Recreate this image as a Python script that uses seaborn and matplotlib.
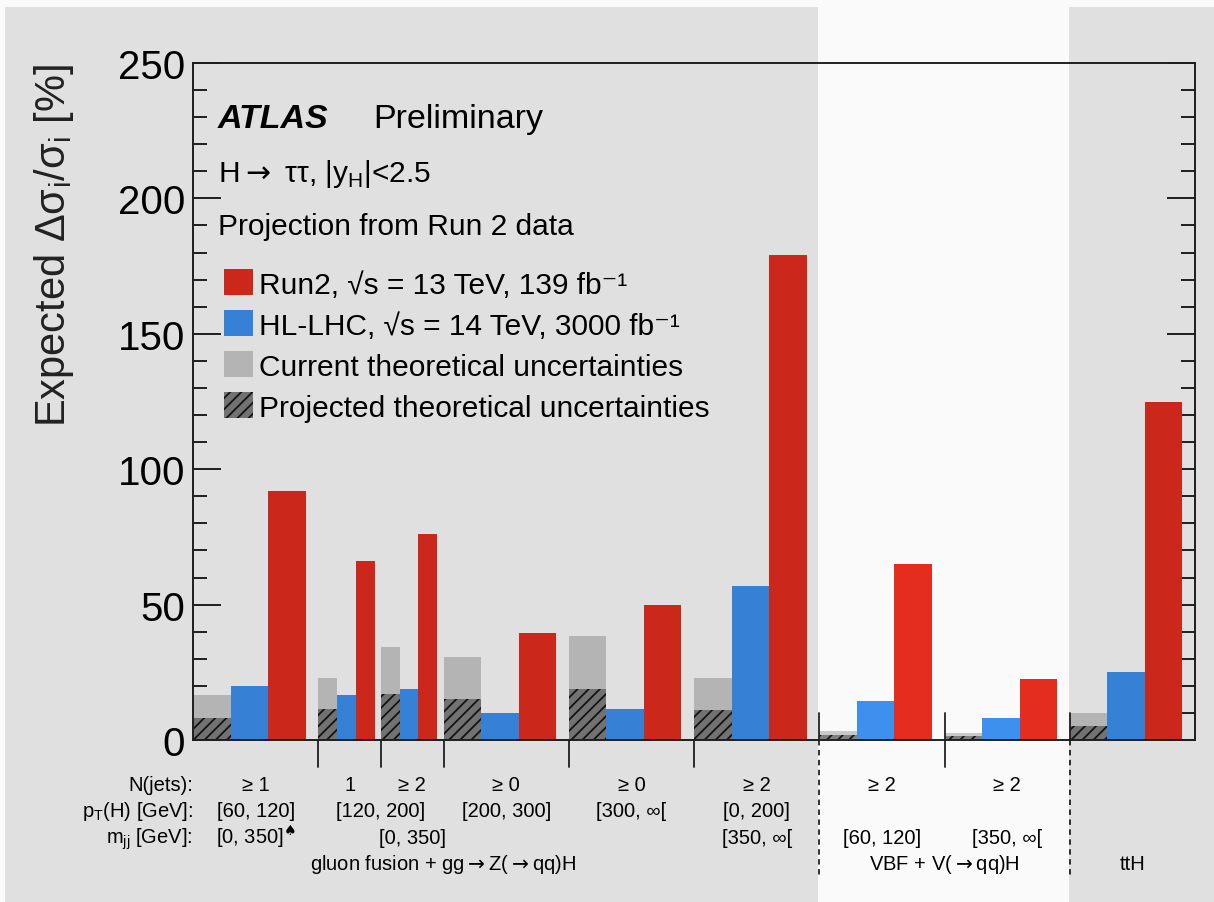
import numpy as np
import matplotlib
matplotlib.use("Agg")
import matplotlib.pyplot as plt
import matplotlib.transforms as mtransforms
from matplotlib.patches import Patch, Rectangle
from matplotlib.ticker import MultipleLocator
import seaborn as sns

# ---- data: expected relative uncertainty [%] per STXS bin ----
run2 = [92, 66, 76, 39.5, 50, 179, 65, 22.5, 125]
hllhc = [20, 16.5, 19, 10, 11.5, 57, 14.5, 8, 25]
theo_current = [16.5, 23, 34.5, 30.5, 38.5, 23, 3.5, 2.5, 10]
theo_projected = [8, 11.5, 17, 15, 19, 11, 1.8, 1.3, 5]

# ---- bin descriptions drawn under the axis ----
njets_labels = ["≥ 1", "1", "≥ 2", "≥ 0", "≥ 0", "≥ 2", "≥ 2", "≥ 2", ""]
pt_labels = ["[60, 120]", "[120, 200]", "[200, 300]", "[300, ∞[", "[0, 200]"]
mjj_labels = [r"[0, 350]$^{\spadesuit}$", "[0, 350]", "[350, ∞[", "[60, 120]", "[350, ∞["]
group_labels = [r"gluon fusion + gg$\rightarrow$Z($\rightarrow$qq)H",
                r"VBF + V($\rightarrow$qq)H", "ttH"]
row_titles = ["N(jets):", r"p$_{\mathregular{T}}$(H) [GeV]:", r"m$_{\mathregular{jj}}$ [GeV]:"]
legend_labels = [
    "Run2, √s = 13 TeV, 139 fb⁻¹",
    "HL-LHC, √s = 14 TeV, 3000 fb⁻¹",
    "Current theoretical uncertainties",
    "Projected theoretical uncertainties",
]

# ---- layout of the bins on the x axis ----
bin_edges = np.array([0, 1, 1.5, 2, 3, 4, 5, 6, 7, 8])
bin_left = bin_edges[:-1]
bin_width = np.diff(bin_edges)
bin_center = bin_left + bin_width / 2
pt_pos = [bin_center[0], bin_edges[2], bin_center[3], bin_center[4], bin_center[5]]
mjj_pos = [bin_center[0], bin_center[2], bin_center[5], bin_center[6], bin_center[7]]
group_pos = [bin_edges[3], bin_edges[7], bin_center[8]]
bar_frac = 0.3

RED = "#e42c1f"
BLUE = "#3d90ee"
GREY = "#c9c9c9"
HATCH_FACE = "#808080"
HATCH_LINE = "#161616"
INK = "#222222"

sns.set_theme(style="ticks")
plt.rcParams.update({
    "font.family": ["Liberation Sans", "DejaVu Sans"],
    "axes.edgecolor": INK,
    "axes.linewidth": 1.4,
    "hatch.linewidth": 1.3,
    "text.color": "black",
    "ytick.color": INK,
    "ytick.labelcolor": "black",
})

fig = plt.figure(figsize=(12.14, 9.03), dpi=100, facecolor="#fafafa")
ax = fig.add_axes([0.15898, 0.17940, 0.82537, 0.74972])
ax.set_facecolor("none")

full_bins = [i for i in range(len(run2)) if bin_width[i] == 1]
half_bins = [i for i in range(len(run2)) if bin_width[i] != 1]


def draw_series(values, slot, **style):
    """Draw one series as bars occupying the given slot inside each bin."""
    for group in (full_bins, half_bins):
        xs = [bin_left[i] + (slot + 0.5) * bar_frac * bin_width[i] for i in group]
        ys = [values[i] for i in group]
        sns.barplot(x=xs, y=ys, native_scale=True, orient="x", width=bar_frac,
                    errorbar=None, saturation=1, ax=ax, **style)


draw_series(theo_current, 0, color=GREY, linewidth=0)
draw_series(theo_projected, 0, color=HATCH_FACE, edgecolor=HATCH_LINE,
            hatch="///", linewidth=0)
draw_series(hllhc, 1, color=BLUE, linewidth=0)
draw_series(run2, 2, color=RED, linewidth=0)

ax.set_xlim(bin_edges[0], bin_edges[-1])
ax.set_ylim(0, 250)

# axis frame and ticks
for side in ("top", "right", "left", "bottom"):
    ax.spines[side].set_visible(True)
    ax.spines[side].set_linewidth(1.4)
    ax.spines[side].set_color(INK)
ax.yaxis.set_major_locator(MultipleLocator(50))
ax.yaxis.set_minor_locator(MultipleLocator(10))
ax.tick_params(axis="y", which="major", direction="in", length=20, width=1.4,
               left=True, right=True, labelsize=29, pad=5.5)
ax.tick_params(axis="y", which="minor", direction="in", length=10, width=1.4,
               left=True, right=True)
ax.tick_params(axis="x", which="both", bottom=False, top=False, labelbottom=False)
ax.set_xlabel("")
ax.set_ylabel(r"Expected Δσ$_{\mathregular{i}}$/σ$_{\mathregular{i}}$ [%]",
              fontsize=30, loc="top")
ax.yaxis.set_label_coords(-0.117, 1.0)

# header texts
ax.text(0.0245, 0.9055, "ATLAS", transform=ax.transAxes, fontsize=24.5,
        fontweight="bold", fontstyle="italic")
ax.text(0.1796, 0.9055, "Preliminary", transform=ax.transAxes, fontsize=24.5)
ax.text(0.0245, 0.826, r"H$\rightarrow$ ττ, |y$_{\mathregular{H}}$|<2.5",
        transform=ax.transAxes, fontsize=21.5)
ax.text(0.0245, 0.7474, "Projection from Run 2 data", transform=ax.transAxes,
        fontsize=21.5)

handles = [
    Patch(facecolor=RED, linewidth=0),
    Patch(facecolor=BLUE, linewidth=0),
    Patch(facecolor=GREY, linewidth=0),
    Patch(facecolor=HATCH_FACE, edgecolor=HATCH_LINE, hatch="///", linewidth=0),
]
ax.legend(handles, legend_labels, loc="upper left", bbox_to_anchor=(0.031, 0.695),
          frameon=False, fontsize=21.5, handlelength=0.97, handleheight=0.94,
          handletextpad=0.19, labelspacing=0.40, borderpad=0, borderaxespad=0)

# bin separators below the axis
sep = mtransforms.blended_transform_factory(ax.transData, ax.transAxes)
for x in bin_edges[1:6]:
    ax.plot([x, x], [0, -0.04], color=INK, lw=1.3, transform=sep, clip_on=False)
ax.plot([bin_edges[7]] * 2, [0.04, -0.04], color=INK, lw=1.3, transform=sep, clip_on=False)
for x in (bin_edges[6], bin_edges[8]):
    ax.plot([x, x], [0.04, 0.0], color=INK, lw=1.3, transform=sep, clip_on=False)
    ax.plot([x, x], [0.0, -0.2], color=INK, lw=1.3, ls=(0, (3, 2.5)),
            transform=sep, clip_on=False)

# bin descriptions
label_fs = 14.5
rows_y = [-0.0739, -0.1123, -0.1521]
for title, y in zip(row_titles, rows_y):
    ax.text(0.0, y, title, transform=ax.transAxes, ha="right", va="baseline",
            fontsize=label_fs)
for x, t in zip(bin_center, njets_labels):
    ax.text(x, rows_y[0], t, transform=sep, ha="center", va="baseline", fontsize=label_fs)
for x, t in zip(pt_pos, pt_labels):
    ax.text(x, rows_y[1], t, transform=sep, ha="center", va="baseline", fontsize=label_fs)
for x, t in zip(mjj_pos, mjj_labels):
    ax.text(x, rows_y[2], t, transform=sep, ha="center", va="baseline", fontsize=label_fs)
for x, t in zip(group_pos, group_labels):
    ax.text(x, -0.1905, t, transform=sep, ha="center", va="baseline", fontsize=label_fs)

# grey shading over the production modes outside the VBF column
top = 1 - 8 / 903
for x0, x1 in ((5 / 1214, 818 / 1214), (1069 / 1214, 1.0)):
    fig.add_artist(Rectangle((x0, 0), x1 - x0, top, transform=fig.transFigure,
                             facecolor="black", alpha=0.1, linewidth=0, zorder=10))

fig.savefig("out.png", dpi=100, facecolor=fig.get_facecolor())
